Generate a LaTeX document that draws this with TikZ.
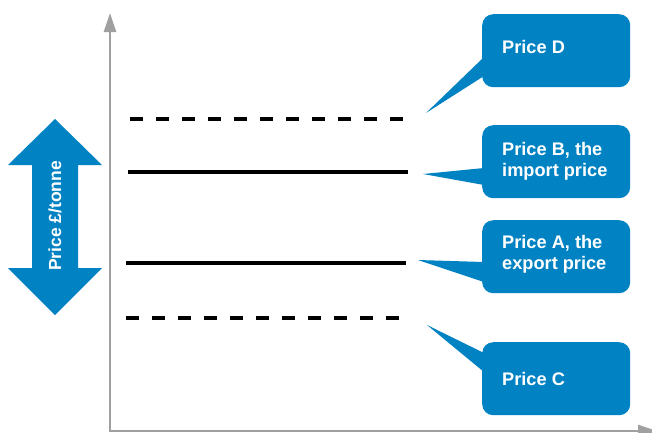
\documentclass[tikz,border=0pt]{standalone}
\usepackage{fontspec}
\setmainfont{Liberation Sans}
\usetikzlibrary{arrows.meta}
\definecolor{calloutblue}{HTML}{0082C3}
\definecolor{axisgrey}{HTML}{A0A0A0}
\tikzset{
  axisline/.style={draw=axisgrey, line width=2.5pt,
    {Triangle[length=19pt,width=12pt]}-{Triangle[length=19pt,width=12pt]}},
  priceline/.style={draw=black, line width=3.2pt},
  dashline/.style={priceline, dash pattern=on 13pt off 13pt},
  callbox/.style={fill=calloutblue, rounded corners=11pt, minimum width=148pt,
    minimum height=73pt, anchor=north west, inner sep=0pt},
  calltext/.style={anchor=base west, text=white, inner sep=0pt, align=left,
    font=\bfseries\fontsize{18.2}{21.5}\selectfont},
  pointer/.style={fill=calloutblue}
}
\begin{document}
\begin{tikzpicture}[x=1pt, y=-1pt]
\useasboundingbox (0,0) rectangle (652,432);
\clip (0,0) rectangle (652,432);

% axes
\coordinate (ytip) at (110,13);
\coordinate (xtip) at (657,431);
\draw[axisline] (ytip) |- (xtip);

% price levels
\coordinate (dL) at (130,119); \coordinate (dR) at (405,119);
\coordinate (bL) at (128,172); \coordinate (bR) at (408,172);
\coordinate (aL) at (126,263); \coordinate (aR) at (406,263);
\coordinate (cL) at (126,318); \coordinate (cR) at (401,318);
\draw[dashline] (dL) -- (dR);
\draw[priceline] (bL) -- (bR);
\draw[priceline] (aL) -- (aR);
\draw[dashline] (cL) -- (cR);

% vertical double arrow with axis label
\fill[calloutblue] (55,119) -- (102,165) -- (78,165) -- (78,268) -- (102,268)
  -- (55,315) -- (8,268) -- (32,268) -- (32,165) -- (8,165) -- cycle;
\node[text=white, rotate=90, inner sep=0pt,
  font=\bfseries\fontsize{17.5}{21}\selectfont] (ylabel) at (55,216) {Price £/tonne};

% callouts
\node[callbox] (boxD) at (482,14) {};
\node[callbox] (boxB) at (482,125) {};
\node[callbox] (boxA) at (482,220) {};
\node[callbox] (boxC) at (482,342) {};

\coordinate (tipD) at (426,113);
\coordinate (tipB) at (423,174);
\coordinate (tipA) at (418,260);
\coordinate (tipC) at (427,325);

\fill[pointer] (484,57) -- (tipD) -- (484,76) -- cycle;
\fill[pointer] (484,168) -- (tipB) -- (484,185) -- cycle;
\fill[pointer] (484,262) -- (tipA) -- (484,282) -- cycle;
\fill[pointer] (484,353) -- (tipC) -- (484,372) -- cycle;

% a multi-line node's base anchor sits on its last line
\node[calltext] (txtD) at (502,53) {Price D};
\node[calltext] (txtB) at (502,176.5) {Price B, the\\import price};
\node[calltext] (txtA) at (502,269.5) {Price A, the\\export price};
\node[calltext] (txtC) at (502,385) {Price C};
\end{tikzpicture}
\end{document}
